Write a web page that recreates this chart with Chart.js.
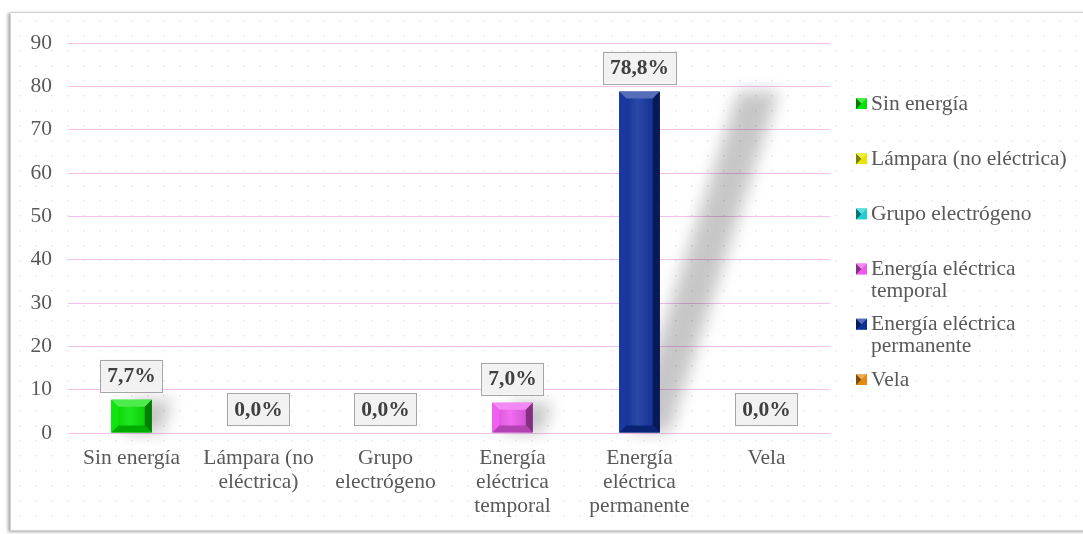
<!DOCTYPE html>
<html><head><meta charset="utf-8">
<script src="https://cdn.jsdelivr.net/npm/chart.js@4.4.1/dist/chart.umd.min.js"></script>
<style>
body{margin:0;background:#fff;overflow:hidden;}
#marco{position:absolute;left:10px;top:12px;width:1090px;height:517px;border:1px solid #d2d2d2;box-shadow:-2px 1px 3px rgba(0,0,0,.35);background:#fff}
</style></head><body>
<div id="marco"><canvas id="grafico" width="1072" height="517"></canvas></div>
<script>
// datos
const categorias=["Sin energía","Lámpara (no eléctrica)","Grupo electrógeno","Energía eléctrica temporal","Energía eléctrica permanente","Vela"];
const etiquetasEje=[["Sin energía"],["Lámpara (no","eléctrica)"],["Grupo","electrógeno"],["Energía","eléctrica","temporal"],["Energía","eléctrica","permanente"],["Vela"]];
const porcentajes=[7.7,0,0,7.0,78.8,0];
const colores=["#00e400","#e6e600","#1fcfcf","#ee58ee","#0d2f9c","#e28a12"];
const ejeY={min:0,max:90,paso:10};

const fuente="'Liberation Serif','Times New Roman',serif";
const gris="#595959";
const tam=21.5;

function mezclar(hex,otro,t){
    let a=parseInt(hex.slice(1),16), b=parseInt(otro.slice(1),16);
    let r=Math.round(((a>>16)&255)*(1-t)+((b>>16)&255)*t);
    let g=Math.round(((a>>8)&255)*(1-t)+((b>>8)&255)*t);
    let bl=Math.round((a&255)*(1-t)+(b&255)*t);
    return `rgb(${r},${g},${bl})`;
}

// fondo punteado rosado
const patron=document.createElement("canvas");
patron.width=16; patron.height=15;
const pc=patron.getContext("2d");
pc.fillStyle="#f6d3f1";
pc.fillRect(8,7,1.4,1.4);

const fondo={
    id:"fondo",
    beforeDraw(chart){
        const c=chart.ctx;
        c.save();
        c.fillStyle="#fff";
        c.fillRect(0,0,chart.width,chart.height);
        c.fillStyle=c.createPattern(patron,"repeat");
        c.fillRect(0,0,chart.width,chart.height);
        c.restore();
    }
};

// sombra inclinada y biselado de las barras
const barras3d={
    id:"barras3d",
    beforeDatasetsDraw(chart){
        const c=chart.ctx;
        const meta=chart.getDatasetMeta(0);
        c.save();
        c.filter="blur(8px)";
        c.fillStyle="rgba(0,0,0,0.22)";
        meta.data.forEach((b,i)=>{
            if(porcentajes[i]<=0) return;
            const mitad=b.width/2, h=b.base-b.y;
            const abajo=10, arriba=10+0.32*h;
            c.beginPath();
            c.moveTo(b.x-mitad+abajo,b.base);
            c.lineTo(b.x+mitad+abajo,b.base);
            c.lineTo(b.x+mitad+arriba,b.y);
            c.lineTo(b.x-mitad+arriba,b.y);
            c.closePath();
            c.fill();
        });
        c.restore();
    },
    afterDatasetsDraw(chart){
        const c=chart.ctx;
        const meta=chart.getDatasetMeta(0);
        meta.data.forEach((b,i)=>{
            if(porcentajes[i]<=0) return;
            const x0=b.x-b.width/2, x1=b.x+b.width/2, y0=b.y, y1=b.base;
            const s=Math.min(7,(y1-y0)/3);
            const col=colores[i];
            const cara=(pts,color)=>{
                c.beginPath();
                c.moveTo(pts[0][0],pts[0][1]);
                pts.slice(1).forEach(p=>c.lineTo(p[0],p[1]));
                c.closePath();
                c.fillStyle=color;
                c.fill();
            };
            c.save();
            const grad=c.createLinearGradient(x0,0,x1,0);
            grad.addColorStop(0,mezclar(col,"#000000",0.1));
            grad.addColorStop(0.45,mezclar(col,"#ffffff",0.12));
            grad.addColorStop(1,mezclar(col,"#000000",0.15));
            c.fillStyle=grad;
            c.fillRect(x0,y0,x1-x0,y1-y0);
            cara([[x0,y0],[x1,y0],[x1-s,y0+s],[x0+s,y0+s]],mezclar(col,"#ffffff",0.3));
            cara([[x1,y0],[x1,y1],[x1-s,y1-s],[x1-s,y0+s]],mezclar(col,"#000000",0.45));
            cara([[x0,y1],[x1,y1],[x1-s,y1-s],[x0+s,y1-s]],mezclar(col,"#000000",0.25));
            cara([[x0,y0],[x0+s,y0+s],[x0+s,y1-s],[x0,y1]],mezclar(col,"#ffffff",0.05));
            c.restore();
        });
    }
};

// etiquetas de datos en cajas
const etiquetas={
    id:"etiquetas",
    afterDatasetsDraw(chart){
        const c=chart.ctx;
        const meta=chart.getDatasetMeta(0);
        c.save();
        c.font="bold "+tam+"px "+fuente;
        c.textAlign="center";
        c.textBaseline="middle";
        meta.data.forEach((b,i)=>{
            const txt=porcentajes[i].toFixed(1).replace(".",",")+"%";
            const w=c.measureText(txt).width+14, h=32;
            const yc=b.y-8-h/2;
            c.fillStyle="#f2f2f2";
            c.fillRect(b.x-w/2,yc-h/2,w,h);
            c.strokeStyle="#a6a6a6";
            c.lineWidth=1;
            c.strokeRect(Math.round(b.x-w/2)+0.5,Math.round(yc-h/2)+0.5,Math.round(w),h);
            c.fillStyle="#404040";
            c.fillText(txt,b.x,yc+1);
        });
        c.restore();
    }
};

// leyenda a la derecha
const leyenda={
    id:"leyenda",
    afterDraw(chart){
        const c=chart.ctx;
        const xCuadro=845, xTexto=860, ancho=200, yIni=90, paso=55.2, alto=22;
        c.save();
        c.font=tam+"px "+fuente;
        c.textBaseline="middle";
        categorias.forEach((nom,i)=>{
            let y=yIni+i*paso;
            const q=11, x=xCuadro, t=y-5;
            c.fillStyle=colores[i];
            c.fillRect(x,t,q,q);
            c.fillStyle=mezclar(colores[i],"#000000",0.45);
            c.beginPath();c.moveTo(x,t);c.lineTo(x+q/2,t+q/2);c.lineTo(x,t+q);c.closePath();c.fill();
            c.fillStyle=mezclar(colores[i],"#ffffff",0.3);
            c.beginPath();c.moveTo(x,t);c.lineTo(x+q,t);c.lineTo(x+q/2,t+q/2);c.closePath();c.fill();
            c.fillStyle=gris;
            let linea="";
            nom.split(" ").forEach(p=>{
                let prueba=linea?linea+" "+p:p;
                if(c.measureText(prueba).width>ancho && linea){
                    c.fillText(linea,xTexto,y+1);
                    y+=alto;
                    linea=p;
                }else linea=prueba;
            });
            c.fillText(linea,xTexto,y+1);
        });
        c.restore();
    }
};

new Chart(document.getElementById("grafico"),{
    type:"bar",
    data:{
        labels:etiquetasEje,
        datasets:[{
            data:porcentajes,
            backgroundColor:"rgba(0,0,0,0)",
            barPercentage:0.32,
            categoryPercentage:1
        }]
    },
    options:{
        responsive:false,
        animation:false,
        layout:{padding:{top:30,right:253,bottom:0,left:0}},
        plugins:{legend:{display:false},tooltip:{enabled:false}},
        scales:{
            x:{
                grid:{display:false},
                border:{color:"#f4c0ee"},
                ticks:{color:gris,font:{family:fuente,size:tam,lineHeight:1.12},padding:5,maxRotation:0,autoSkip:false},
                afterFit(s){s.height=97;}
            },
            y:{
                min:ejeY.min,max:ejeY.max,
                grid:{color:"#f4c0ee",drawTicks:false},
                border:{display:false},
                ticks:{stepSize:ejeY.paso,color:gris,font:{family:fuente,size:tam},padding:16},
                afterFit(s){s.width=57;}
            }
        }
    },
    plugins:[fondo,barras3d,etiquetas,leyenda]
});
</script>
</body></html>
